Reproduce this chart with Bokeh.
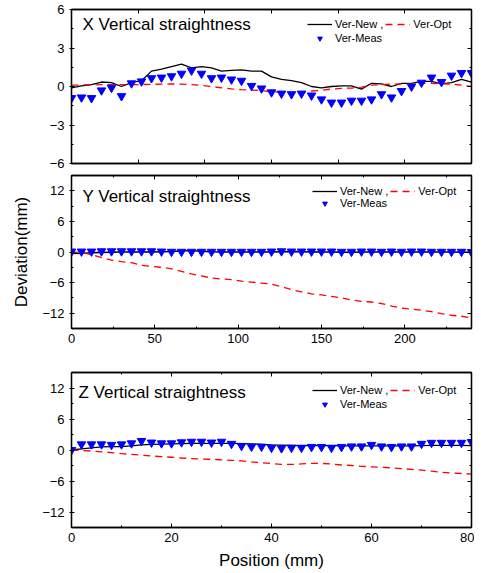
from bokeh.plotting import figure
from bokeh.models import Range1d, LinearAxis, SingleIntervalTicker, Legend, LegendItem, Label
from bokeh.layouts import column
from bokeh.embed import file_html
from bokeh.resources import INLINE

FONT = "Liberation Sans"

# ---------------- data ----------------
titles = ["X Vertical straightness", "Y Vertical straightness", "Z Vertical straightness"]
series_labels = ["Ver-New ,", "Ver-Opt", "Ver-Meas"]
x_axis_label = "Position (mm)"
y_axis_label = "Deviation(mm)"

x_long = [0, 6, 12, 18, 24, 30, 36, 42, 48, 54, 60, 66, 72, 78, 84, 90, 96, 102, 108, 114,
          120, 126, 132, 138, 144, 150, 156, 162, 168, 174, 180, 186, 192, 198, 204, 210,
          216, 222, 228, 234, 240]
x_short = [0, 2, 4, 6, 8, 10, 12, 14, 16, 18, 20, 22, 24, 26, 28, 30, 32, 34, 36, 38, 40,
           42, 44, 46, 48, 50, 52, 54, 56, 58, 60, 62, 64, 66, 68, 70, 72, 74, 76, 78, 80]

x_new = [-0.1, 0.05, 0.15, 0.35, 0.3, 0.0, 0.3, 0.45, 1.2, 1.35,
         1.55, 1.75, 1.45, 1.55, 1.45, 1.2, 1.25, 1.3, 1.2, 1.2,
         0.75, 0.55, 0.45, 0.3, 0.0, -0.1, 0.0, 0.05, 0.05, -0.2,
         0.25, 0.2, 0.0, 0.25, 0.25, 0.4, 0.4, 0.2, 0.3, 0.55, 0.35]
x_opt = [0.1, 0.12, 0.13, 0.14, 0.15, 0.15, 0.15, 0.15, 0.17, 0.18,
         0.2, 0.18, 0.15, 0.08, 0.0, -0.1, -0.18, -0.25, -0.28, -0.32,
         -0.4, -0.45, -0.45, -0.42, -0.35, -0.3, -0.2, -0.15, -0.12, -0.05,
         0.1, 0.15, 0.18, 0.2, 0.22, 0.25, 0.25, 0.22, 0.18, 0.1, 0.0]
x_meas = [-0.9, -0.85, -0.9, -0.3, -0.1, -0.75, 0.25, 0.4, 0.65, 0.7,
          0.8, 1.0, 1.25, 1.0, 0.65, 0.7, 0.55, 0.45, 0.05, -0.15,
          -0.45, -0.55, -0.6, -0.55, -0.7, -1.0, -1.25, -1.25, -1.1, -1.1,
          -1.0, -0.6, -0.85, -0.35, 0.0, 0.3, 0.7, 0.35, 0.85, 1.05, 1.05]

y_new = [-0.3, -0.25, -0.15, -0.1, -0.05, 0.0, 0.0, 0.0, 0.0, 0.05,
         0.1, 0.2, 0.25, 0.15, 0.05, 0.0, 0.0, 0.0, 0.0, 0.0,
         0.0, 0.05, 0.1, 0.05, 0.0, 0.0, 0.0, -0.05, -0.05, 0.0,
         0.0, 0.0, 0.0, 0.0, 0.0, 0.0, 0.0, 0.0, 0.0, -0.05, -0.05]
y_opt = [0.0, -0.1, -0.5, -1.1, -1.6, -1.9, -2.1, -2.6, -2.8, -3.0,
         -3.3, -3.8, -4.3, -4.7, -5.1, -5.3, -5.4, -5.7, -5.9, -6.1,
         -6.3, -6.8, -7.4, -7.8, -8.2, -8.4, -8.7, -9.0, -9.4, -9.7,
         -9.8, -10.1, -10.6, -11.0, -11.2, -11.4, -11.7, -12.1, -12.4, -12.6, -12.9]
y_meas = [0.1, 0.1, 0.1, 0.15, 0.15, 0.15, 0.15, 0.15, 0.15, 0.1,
          0.05, 0.05, 0.05, 0.05, 0.05, 0.05, 0.05, 0.05, 0.05, 0.05,
          0.1, 0.15, 0.1, 0.1, 0.1, 0.1, 0.1, 0.05, 0.05, 0.1,
          0.1, 0.05, 0.1, 0.05, 0.1, 0.1, 0.05, 0.05, 0.05, 0.05, 0.0]

z_new = [0.0, 0.2, 0.4, 0.6, 0.65, 0.65, 0.8, 1.0, 1.1, 1.15,
         1.2, 1.25, 1.3, 1.3, 1.3, 1.3, 1.3, 1.25, 1.2, 1.1,
         1.0, 0.95, 0.9, 0.85, 0.85, 0.85, 0.85, 0.8, 0.8, 0.8,
         0.8, 0.8, 0.8, 0.8, 0.8, 0.85, 0.9, 0.9, 0.9, 0.9, 0.85]
z_opt = [0.0, -0.1, -0.2, -0.35, -0.5, -0.7, -0.85, -1.0, -1.15, -1.3,
         -1.4, -1.55, -1.65, -1.75, -1.8, -1.9, -2.0, -2.1, -2.3, -2.45,
         -2.6, -2.8, -2.8, -2.7, -2.6, -2.6, -2.7, -2.9, -3.0, -3.15,
         -3.25, -3.35, -3.45, -3.6, -3.75, -3.9, -4.1, -4.3, -4.45, -4.55, -4.65]
z_meas = [0.0, 1.1, 1.1, 1.1, 1.0, 1.1, 1.3, 1.75, 1.45, 1.3,
          1.3, 1.5, 1.6, 1.6, 1.45, 1.6, 1.2, 0.8, 0.65, 0.65,
          0.45, 0.35, 0.45, 0.45, 0.6, 0.6, 0.45, 0.6, 0.7, 0.7,
          1.0, 0.7, 0.6, 0.7, 0.7, 1.2, 1.4, 1.4, 1.4, 1.4, 1.55]

# axis settings: (x_start, x_end, x_interval, x_minor, y_start, y_end, y_interval, y_minor)
axes_top = (0, 240, 40, 0, -6, 6, 3, 2)
axes_mid = (0, 240, 50, 2, -15, 15, 6, 2)
axes_bot = (0, 80, 20, 2, -15, 15, 6, 2)


def style_axis(ax, show_labels, tin, tout):
    ax.axis_line_color = "black"
    ax.axis_line_width = 1.3
    ax.major_tick_line_color = "black"
    ax.minor_tick_line_color = "black"
    ax.major_tick_line_width = 1.0
    ax.minor_tick_line_width = 1.0
    ax.major_tick_in = tin
    ax.major_tick_out = tout
    ax.minor_tick_in = 2
    ax.minor_tick_out = 0
    ax.major_label_text_font = FONT
    if show_labels:
        ax.major_label_text_color = "black"
        ax.major_label_text_font_size = "13px"
        ax.major_label_standoff = 5
    else:
        ax.major_label_text_color = None
        ax.major_label_text_font_size = "1px"
        ax.major_label_standoff = 0


def panel(xs, new, opt, meas, axes, title, height, bt, bb, show_x_labels,
          title_dy, leg_dy1, leg_dy2, leg_x, title_dx):
    x0, x1, xi, xm, y0, y1, yi, ym = axes
    p = figure(width=474, height=height, x_range=Range1d(x0, x1), y_range=Range1d(y0, y1),
               output_backend="svg", toolbar_location=None, x_axis_location=None,
               y_axis_location=None,
               min_border_left=71, min_border_right=3, min_border_top=bt, min_border_bottom=bb)
    p.xgrid.visible = False
    p.ygrid.visible = False
    p.outline_line_color = "black"
    p.outline_line_width = 1.3
    p.background_fill_color = "white"
    p.border_fill_color = "white"

    bottom = LinearAxis(ticker=SingleIntervalTicker(interval=xi, num_minor_ticks=xm))
    left = LinearAxis(ticker=SingleIntervalTicker(interval=yi, num_minor_ticks=ym))
    top = LinearAxis(ticker=SingleIntervalTicker(interval=xi, num_minor_ticks=xm))
    right = LinearAxis(ticker=SingleIntervalTicker(interval=yi, num_minor_ticks=ym))
    style_axis(bottom, show_x_labels, 4, 0)
    style_axis(left, True, 3, 2)
    style_axis(top, False, 4, 0)
    style_axis(right, False, 4, 0)
    p.add_layout(bottom, "below")
    p.add_layout(left, "left")
    p.add_layout(top, "above")
    p.add_layout(right, "right")

    r_new = p.line(xs, new, line_color="black", line_width=1.3)
    r_opt = p.line(xs, opt, line_color="#ff0000", line_width=1.3, line_dash="7 5")
    r_meas = p.scatter(xs, meas, marker="inverted_triangle", size=8.5,
                       fill_color="#0000ff", line_color="#0000ff")

    p.add_layout(Label(x=x0, y=y1, x_offset=title_dx, y_offset=-title_dy, text=title,
                       text_font=FONT, text_font_size="17px", text_color="black",
                       text_baseline="middle", text_align="left"))

    fh = height - bt - bb
    common = dict(orientation="horizontal", glyph_width=25, glyph_height=12, label_height=12,
                  label_standoff=3, spacing=2, padding=0, margin=0, border_line_color=None,
                  background_fill_alpha=0, label_text_font=FONT, label_text_font_size="11px",
                  label_text_color="black")
    leg1 = Legend(items=[LegendItem(label=series_labels[0], renderers=[r_new]),
                         LegendItem(label=series_labels[1], renderers=[r_opt])],
                  location=(leg_x, fh - leg_dy1 - 6), **common)
    leg2 = Legend(items=[LegendItem(label=series_labels[2], renderers=[r_meas])],
                  location=(leg_x, fh - leg_dy2 - 6), **common)
    p.add_layout(leg1)
    p.add_layout(leg2)
    return p, bottom, left


p1, b1, l1 = panel(x_long, x_new, x_opt, x_meas, axes_top, titles[0], 171, 9, 8, False,
                   15, 15, 29, 236, 11)
p2, b2, l2 = panel(x_long, y_new, y_opt, y_meas, axes_mid, titles[1], 187, 4, 30, True,
                   21, 16, 28, 241, 11)
p3, b3, l3 = panel(x_short, z_new, z_opt, z_meas, axes_bot, titles[2], 215, 14, 46, True,
                   20, 18, 32, 241, 7)

l2.axis_label = y_axis_label
l2.axis_label_text_font = FONT
l2.axis_label_text_font_size = "17px"
l2.axis_label_text_font_style = "normal"
l2.axis_label_text_color = "black"
l2.axis_label_standoff = 8

b3.axis_label = x_axis_label
b3.axis_label_text_font = FONT
b3.axis_label_text_font_size = "17px"
b3.axis_label_text_font_style = "normal"
b3.axis_label_text_color = "black"
b3.axis_label_standoff = 6

layout = column(p1, p2, p3, spacing=0)
open("out.html", "w").write(file_html(layout, INLINE))
